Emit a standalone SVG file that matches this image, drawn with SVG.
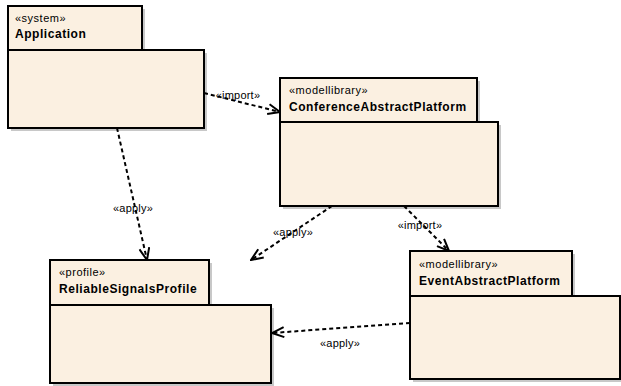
<svg xmlns="http://www.w3.org/2000/svg" width="621" height="386" viewBox="0 0 621 386">
<style>
.shadow{fill:#c8c8c8;stroke:none}
.box{fill:#fbf0e1;stroke:#000;stroke-width:2}
.st{font-family:"Liberation Sans",Arial,sans-serif;font-size:11px;letter-spacing:0.5px;fill:#000}
.nm{font-family:"Liberation Sans",Arial,sans-serif;font-size:12px;font-weight:bold;letter-spacing:0.55px;fill:#000}
.lbl{font-family:"Liberation Sans",Arial,sans-serif;font-size:11px;letter-spacing:0.2px;fill:#000;text-anchor:middle}
.edge{fill:none;stroke:#000;stroke-width:2;stroke-dasharray:4,3}
</style>
<defs>
<marker id="open" viewBox="0 0 14 12" refX="13" refY="6" markerWidth="14" markerHeight="12" markerUnits="userSpaceOnUse" orient="auto">
<path d="M1,1 L13,6 L1,11" fill="none" stroke="#000" stroke-width="2"/>
</marker>
</defs>
<g id="Application">
<rect class="shadow" x="11" y="53" width="196" height="78"/>
<rect class="shadow" x="11" y="9" width="134" height="44"/>
<rect class="box" x="8" y="50" width="196" height="78"/>
<rect class="box" x="8" y="6" width="134" height="44"/>
<text class="st" x="15" y="22">«system»</text>
<text class="nm" x="15" y="38">Application</text>
</g>
<g id="ConferenceAbstractPlatform">
<rect class="shadow" x="283" y="125" width="218" height="84"/>
<rect class="shadow" x="283" y="81" width="197" height="44"/>
<rect class="box" x="280" y="122" width="218" height="84"/>
<rect class="box" x="280" y="78" width="197" height="44"/>
<text class="st" x="289" y="94">«modellibrary»</text>
<text class="nm" x="289" y="111">ConferenceAbstractPlatform</text>
</g>
<g id="ReliableSignalsProfile">
<rect class="shadow" x="53" y="308" width="221" height="78"/>
<rect class="shadow" x="53" y="263" width="159" height="45"/>
<rect class="box" x="50" y="305" width="221" height="78"/>
<rect class="box" x="50" y="260" width="159" height="45"/>
<text class="st" x="59" y="276">«profile»</text>
<text class="nm" x="59" y="293">ReliableSignalsProfile</text>
</g>
<g id="EventAbstractPlatform">
<rect class="shadow" x="413" y="299" width="210" height="83"/>
<rect class="shadow" x="413" y="254" width="162" height="45"/>
<rect class="box" x="410" y="296" width="210" height="83"/>
<rect class="box" x="410" y="251" width="162" height="45"/>
<text class="st" x="419" y="268">«modellibrary»</text>
<text class="nm" x="419" y="285">EventAbstractPlatform</text>
</g>
<g id="connectors">
<path class="edge" d="M204,93 L280,112" marker-end="url(#open)"/>
<text class="lbl" x="238" y="99">«import»</text>
<path class="edge" d="M117,128 L147,260" marker-end="url(#open)"/>
<text class="lbl" x="133" y="212">«apply»</text>
<path class="edge" d="M332,206 L251,260" marker-end="url(#open)"/>
<text class="lbl" x="293" y="236">«apply»</text>
<path class="edge" d="M404,206 L449,251" marker-end="url(#open)"/>
<text class="lbl" x="420" y="229">«import»</text>
<path class="edge" d="M410,323 L272,333" marker-end="url(#open)"/>
<text class="lbl" x="340" y="347">«apply»</text>
</g>
</svg>
